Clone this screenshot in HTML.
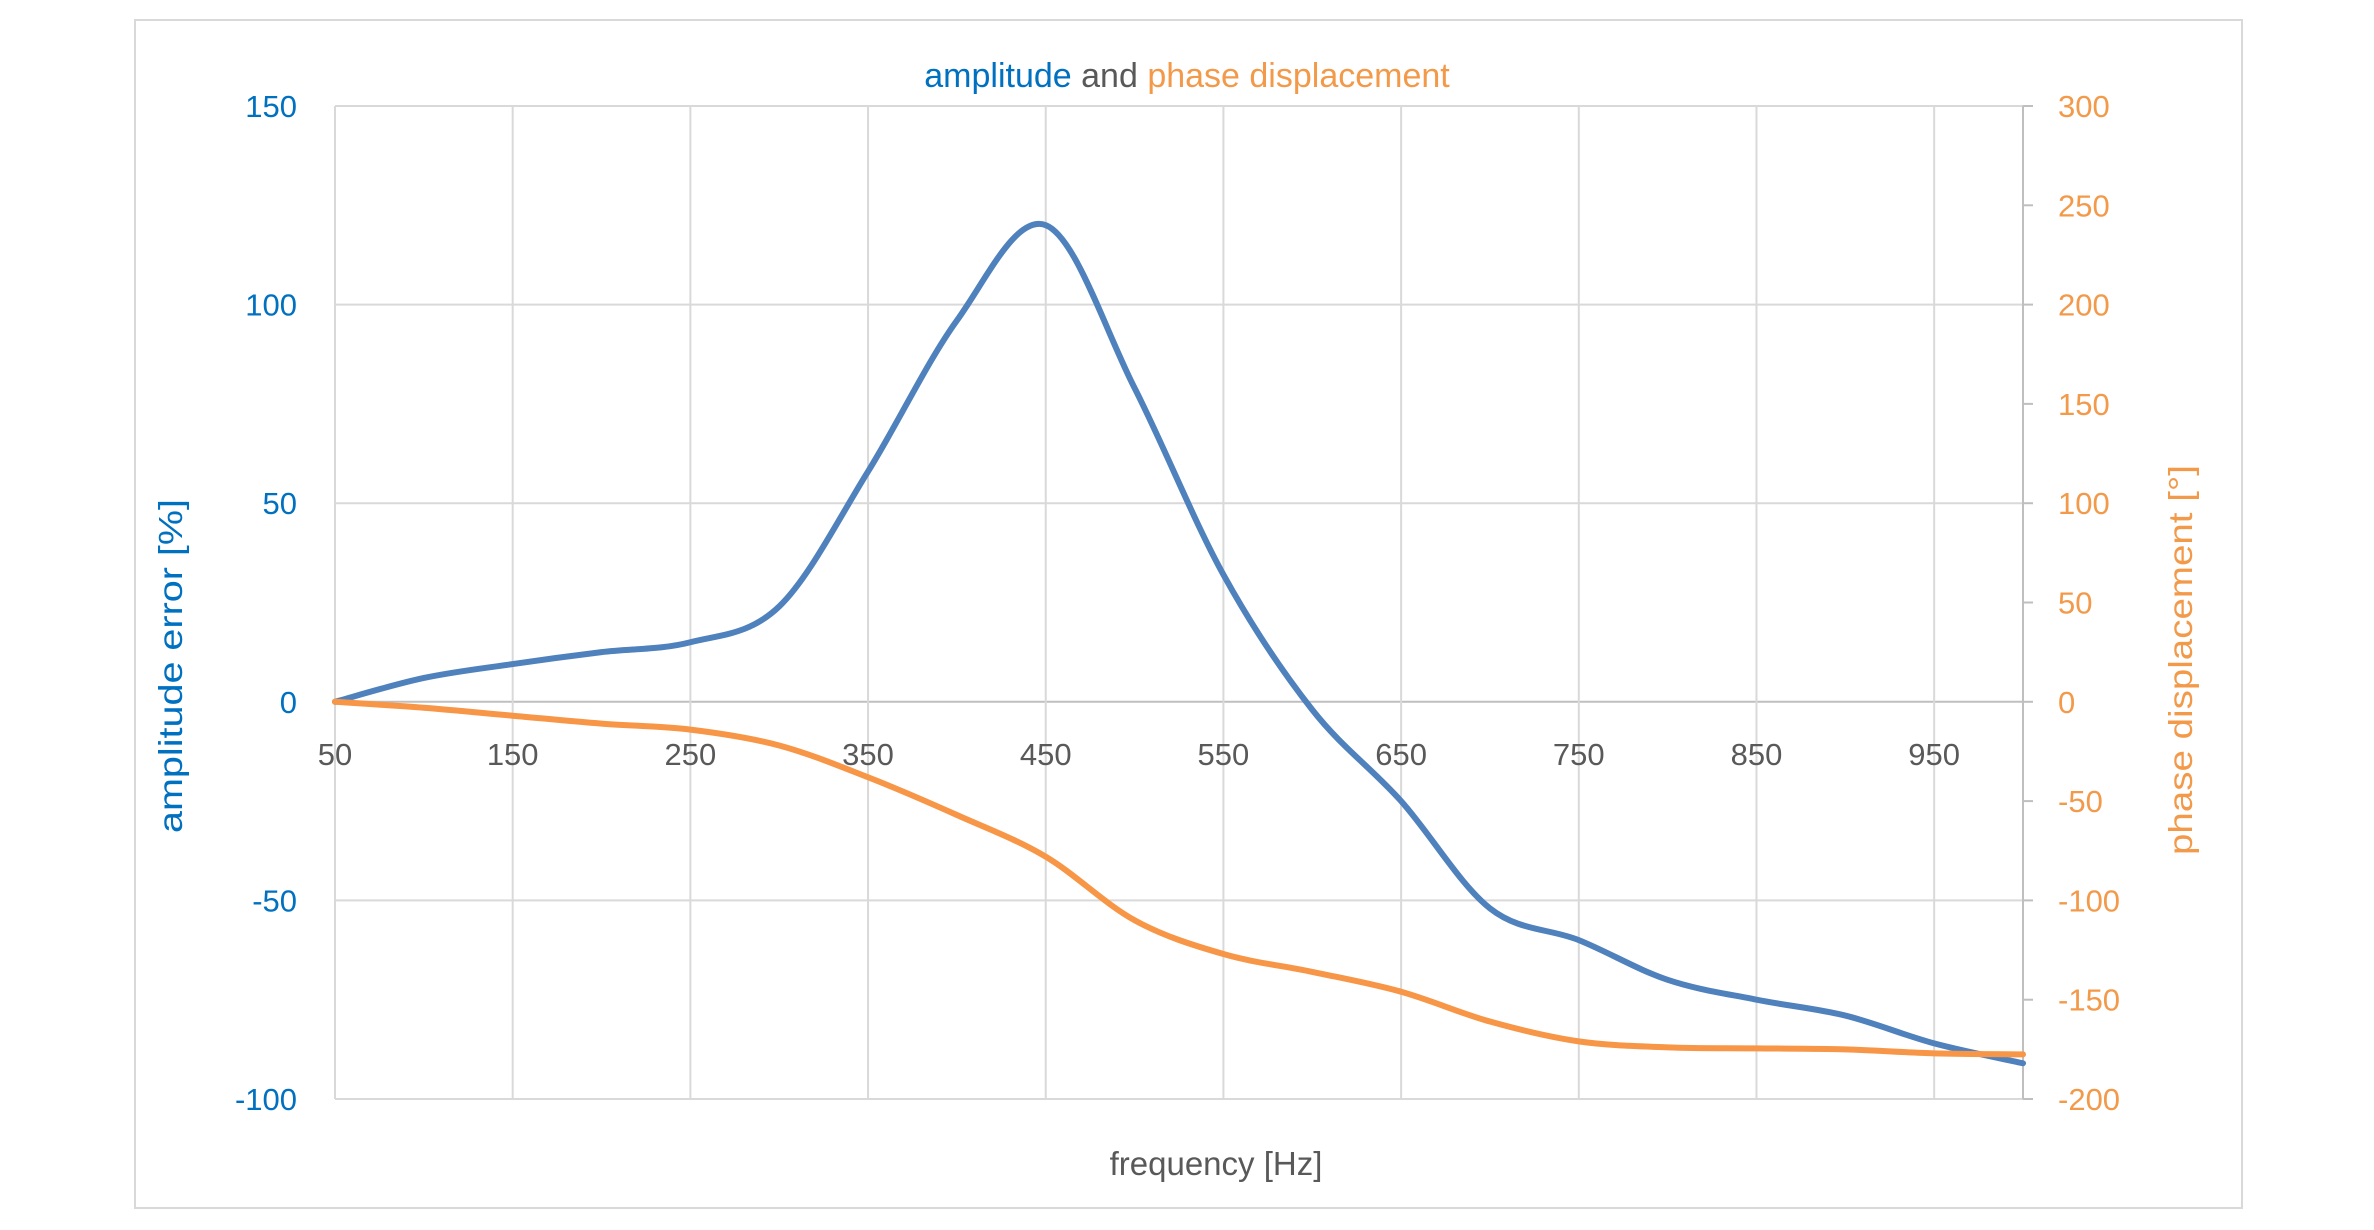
<!DOCTYPE html>
<html><head><meta charset="utf-8"><style>
html,body{margin:0;padding:0;background:#fff}
svg{display:block;font-family:"Liberation Sans",sans-serif}
</style></head><body>
<svg id="chart" width="2374" height="1230" viewBox="0 0 2374 1230" xmlns="http://www.w3.org/2000/svg">
<rect x="135" y="20" width="2107" height="1188" fill="#fff" stroke="#d9d9d9" stroke-width="2"/>
<g id="grid"></g>
<g id="axes"></g>
<g id="series"></g>
<text x="1187" y="87" text-anchor="middle" font-size="34"><tspan fill="#0070C0">amplitude</tspan><tspan fill="#595959"> and </tspan><tspan fill="#F39A4A">phase displacement</tspan></text>
<text x="1216" y="1175" text-anchor="middle" font-size="33" fill="#595959">frequency [Hz]</text>
<text transform="translate(182,666) rotate(-90)" text-anchor="middle" font-size="33" fill="#0070C0" textLength="334" lengthAdjust="spacingAndGlyphs">amplitude error [%]</text>
<text transform="translate(2192,660) rotate(-90)" text-anchor="middle" font-size="33" fill="#F39A4A" textLength="390" lengthAdjust="spacingAndGlyphs">phase displacement [°]</text>
</svg>
<script>
const freqs=[50,100,150,200,250,300,350,400,450,500,550,600,650,700,750,800,850,900,950,1000];
const amplitude=[0,6,9.5,12.5,15,24,58,96,120,79,32,-2,-25,-52,-60,-70,-75,-79,-86,-91];
const phase=[0,-3,-7,-11,-14,-22,-38,-57,-78,-110,-127,-136,-146,-161,-171,-174,-174.5,-175,-177,-177.5];
const xTicks=[50,150,250,350,450,550,650,750,850,950];
const leftTicks=[150,100,50,0,-50,-100];
const rightTicks=[300,250,200,150,100,50,0,-50,-100,-150,-200];
const L=335,R=2023,T=106,B=1099;
const xs=v=>L+(v-50)/(1000-50)*(R-L);
const yl=v=>T+(150-v)/250*(B-T);
const yr=v=>T+(300-v)/500*(B-T);
const NS="http://www.w3.org/2000/svg";
const grid=document.getElementById('grid'),axes=document.getElementById('axes'),ser=document.getElementById('series');
function mk(tag,attrs,parent,txt){const e=document.createElementNS(NS,tag);for(const k in attrs)e.setAttribute(k,attrs[k]);if(txt!==undefined)e.textContent=txt;parent.appendChild(e);return e;}
leftTicks.forEach(v=>{
  const g=mk('line',{x1:L,x2:R,y1:yl(v),y2:yl(v),stroke:v===0?'#bfbfbf':'#d9d9d9','stroke-width':2},grid);
  
  
  const t=mk('text',{x:297,y:yl(v)+11,'text-anchor':'end','font-size':31,fill:'#0070C0'},axes,String(v));
  
  
});
xTicks.forEach(v=>{
  const g=mk('line',{x1:xs(v),x2:xs(v),y1:T,y2:B,stroke:'#d9d9d9','stroke-width':2},grid);
  
  
  const t=mk('text',{x:xs(v),y:765,'text-anchor':'middle','font-size':31,fill:'#595959'},axes,String(v));
  
  
});
const rb=mk('line',{x1:R,x2:R,y1:T,y2:B,stroke:'#bfbfbf','stroke-width':2},grid);


rightTicks.forEach(v=>{
  const k=mk('line',{x1:R,x2:R+10,y1:yr(v),y2:yr(v),stroke:'#bfbfbf','stroke-width':2},axes);
  
  
  const t=mk('text',{x:2058,y:yr(v)+11,'text-anchor':'start','font-size':31,fill:'#F39A4A'},axes,String(v));
  
  
});
function smooth(pts){let d='M'+pts[0][0]+','+pts[0][1];for(let i=0;i<pts.length-1;i++){const p0=pts[Math.max(0,i-1)],p1=pts[i],p2=pts[i+1],p3=pts[Math.min(pts.length-1,i+2)];const c1x=p1[0]+(p2[0]-p0[0])/6,c1y=p1[1]+(p2[1]-p0[1])/6,c2x=p2[0]-(p3[0]-p1[0])/6,c2y=p2[1]-(p3[1]-p1[1])/6;d+=` C${c1x},${c1y} ${c2x},${c2y} ${p2[0]},${p2[1]}`;}return d;}
const pa=mk('path',{d:smooth(freqs.map((f,i)=>[xs(f),yl(amplitude[i])])),fill:'none',stroke:'#4F81BD','stroke-width':6,'stroke-linejoin':'round','stroke-linecap':'round'},ser);


const pp=mk('path',{d:smooth(freqs.map((f,i)=>[xs(f),yr(phase[i])])),fill:'none',stroke:'#F79646','stroke-width':6,'stroke-linejoin':'round','stroke-linecap':'round'},ser);


</script>
</body></html>
